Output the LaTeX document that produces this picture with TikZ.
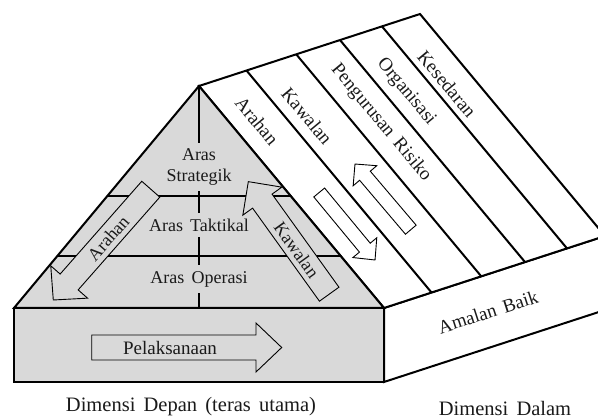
\documentclass[tikz,border=0pt]{standalone}
\usepackage{fontspec}
\setmainfont[WordSpace=1.6]{Liberation Serif}
\usetikzlibrary{calc}
\definecolor{pgray}{HTML}{D9D9D9}
\definecolor{txt}{HTML}{1A1A1A}
\newcommand{\blockarr}[8]{%
  \begin{scope}[shift={(#1,#2)}, rotate=#3]
    \draw[arrline, fill=#8] (0,{-#5/2}) -- ({#4-#7},{-#5/2}) -- ({#4-#7},{-#6/2}) -- (#4,0)
      -- ({#4-#7},{#6/2}) -- ({#4-#7},{#5/2}) -- (0,{#5/2}) -- cycle;
  \end{scope}}
\begin{document}
\begin{tikzpicture}[x=1pt,y=-1pt,
  edge/.style={line width=2pt, line join=miter},
  thinedge/.style={line width=1.8pt},
  arrline/.style={line width=0.9pt, line join=miter},
  inlabel/.style={font=\fontsize{18}{21}\selectfont, text=txt, inner sep=0pt},
  gaplabel/.style={inlabel, fill=pgray, inner xsep=3pt, inner ysep=6pt},
  rooflabel/.style={font=\fontsize{19}{22}\selectfont, text=txt, inner sep=0pt, rotate=-50.2},
  botlabel/.style={font=\fontsize{20.5}{24}\selectfont, text=txt, inner sep=0pt}]
\useasboundingbox (0,0) rectangle (598,419);
\clip (0,0) rectangle (598,419);
% key points
\coordinate (A) at (199,86);
\coordinate (L) at (14,308);
\coordinate (C) at (384,308);
\coordinate (LB) at (14,382);
\coordinate (G) at (384,382);
\coordinate (E) at (420,14);
\coordinate (F) at (605,236);
\coordinate (H) at (605,310);
% side face and roof
\draw[edge, fill=white] (C) -- (F) -- (H) -- (G) -- cycle;
\draw[edge, fill=white] (A) -- (E) -- (F) -- (C) -- cycle;
\foreach \t in {0.215,0.44,0.638,0.828}{
  \draw[edge] ($(A)!\t!(E)$) -- ($(C)!\t!(F)$);
}
% front triangle and box
\draw[edge, fill=pgray] (A) -- (L) -- (C) -- cycle;
\draw[edge, fill=pgray, line width=2.4pt] (L) rectangle (G);
\coordinate (M1L) at ($(A)!{(196-86)/222}!(L)$);
\coordinate (M1R) at ($(A)!{(196-86)/222}!(C)$);
\coordinate (M2L) at ($(A)!{(256-86)/222}!(L)$);
\coordinate (M2R) at ($(A)!{(256-86)/222}!(C)$);
\draw[thinedge] (M1L) -- (M1R);
\draw[thinedge] (M2L) -- (M2R);
\coordinate (Bc) at (199,308);
\draw[thinedge] (A) -- (Bc);
\node[gaplabel, align=center] (strat) at (199,167) {Aras\\Strategik};
\node[gaplabel] (takt) at (199,225) {Aras Taktikal};
\node[gaplabel] (oper) at (199,279) {Aras Operasi};
% arrows in front
\blockarr{150.8}{189.2}{228.65}{147.6}{24}{49}{24}{pgray}
\blockarr{329.2}{294.2}{125.7}{138.6}{24}{48}{24}{pgray}
\blockarr{91.7}{347.5}{0}{190}{25}{49}{25.7}{pgray}
\node[inlabel, rotate=48.65] (arahanF) at (108.3,238.3) {Arahan};
\node[inlabel, rotate=-54.3] (kawalanF) at (296.7,250) {Kawalan};
\node[inlabel, font=\fontsize{19}{22}\selectfont] (pel) at (170,348) {Pelaksanaan};
% roof arrows
\blockarr{410.8}{229.7}{130.35}{86.2}{14}{31}{15.4}{white}
\blockarr{319.2}{192.5}{-50.4}{87.6}{14}{31}{16}{white}
% roof labels
\node[rooflabel] (r1) at (257,121) {Arahan};
\node[rooflabel] (r2) at (307,116) {Kawalan};
\node[rooflabel] (r3) at (381,123) {Pengurusan Risiko};
\node[rooflabel] (r4) at (406,92) {Organisasi};
\node[rooflabel] (r5) at (447,84) {Kesedaran};
\node[rooflabel, rotate=68.2] (amalan) at (488,312) {Amalan Baik};
% bottom labels
\node[botlabel] (dd) at (191,407) {Dimensi Depan (teras utama)};
\node[botlabel] (dl) at (505,408) {Dimensi Dalam};
\end{tikzpicture}
\end{document}
